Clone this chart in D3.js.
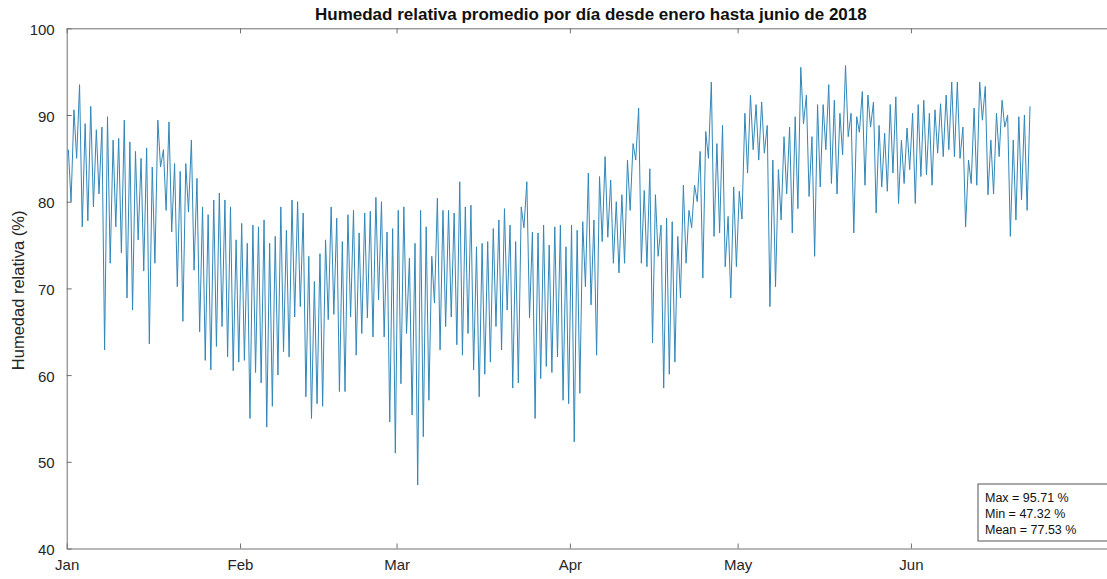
<!DOCTYPE html>
<html>
<head>
<meta charset="utf-8">
<script src="https://cdn.jsdelivr.net/npm/d3@7"></script>
<style>
  html, body { margin: 0; padding: 0; background: #ffffff; overflow: hidden; }
  svg { display: block; }
  text { font-family: "Liberation Sans", Arial, sans-serif; }
</style>
</head>
<body>
<svg id="chart" width="1107" height="579"></svg>
<script>
// Daily humidity extremes (%), one entry per day starting 1 Jan 2018:
// the early-morning high and the afternoon low of each day.
const dailyHigh = [
  86, 90.6, 93.5, 89, 91, 88.3, 88.6, 89.8, 87.1, 87.3,
  89.4, 86.9, 85.8, 85, 86.2, 84, 89.4, 86, 89.2, 84.4,
  83.5, 84.4, 87.1, 82.7, 79.4, 78.5, 80.2, 81, 80.2, 79.4,
  75.6, 77.5, 75.2, 77.3, 77.1, 77.9, 75.2, 76, 79.4, 76.7,
  80.2, 80, 78.7, 73.7, 70.8, 74, 75.6, 79.4, 78.1, 75.4,
  78.5, 79, 76.4, 78.7, 78.9, 80.5, 80, 76.5, 76.9, 79,
  79.4, 73.5, 75.2, 79, 77.1, 73.7, 80.4, 79, 79, 78.7,
  82.3, 79.4, 79.6, 74.8, 75.2, 75.4, 76.9, 77.9, 79.2, 77.3,
  75.4, 79.4, 82.3, 76.5, 76.4, 77.3, 75, 77.1, 77.3, 74.8,
  77.3, 76.7, 77.7, 83.3, 77.9, 82.9, 85.2, 82.5, 80, 80.8,
  84.8, 86.7, 90.8, 81.3, 83.8, 80.8, 77.3, 78.1, 77.7, 76,
  81.9, 79, 81.9, 85.8, 88.1, 93.8, 86.7, 88.8, 78.3, 81.7,
  81.2, 90.2, 92.3, 91.2, 91.5, 88.8, 84.8, 83.7, 87.5, 88.6,
  89.8, 95.5, 92.3, 87.5, 91.2, 91.2, 93.5, 91.7, 90.2, 95.71,
  90.2, 89.8, 92.7, 92.3, 91.5, 88.8, 87.9, 91.2, 92.1, 87.1,
  88.5, 90.2, 91.2, 91.7, 90.2, 90.6, 91.3, 92.3, 93.8, 93.8,
  88.6, 84.8, 90.8, 93.8, 93.3, 87.1, 90.2, 91.7, 90, 87.1,
  89.8, 90, 91
];
const dailyLow = [
  80, 85, 77.1, 77.8, 79.4, 80.9, 62.9, 72.9, 77.1, 74.1,
  68.9, 67.5, 75.6, 72, 63.6, 72.9, 84, 79, 76.5, 70.2,
  66.2, 78.8, 72.1, 65, 61.7, 60.6, 63.3, 65.6, 62.1, 60.5,
  61.5, 61.7, 55, 60.3, 59.1, 54, 56.4, 60, 62.7, 62.1,
  66.7, 67.9, 57.5, 55, 56.7, 56.4, 66.4, 67, 58.1, 58.1,
  66.7, 62.3, 64.8, 66.6, 64.4, 68.7, 64.4, 54.6, 51, 59,
  64.8, 55.4, 47.32, 52.9, 57.1, 68.3, 62.9, 65.6, 66.7, 63.5,
  62.3, 64.8, 60.6, 57.5, 60.1, 61.5, 65.6, 62.9, 67.5, 58.5,
  59.1, 77, 66.6, 55, 59.6, 61, 60.3, 62.1, 57.1, 56.7,
  52.3, 57.9, 70.2, 68.1, 62.3, 75.4, 75.9, 72.9, 71.8, 72.9,
  79, 84.8, 72.9, 72.5, 63.7, 73.7, 58.5, 60.1, 61.5, 68.9,
  72.9, 77, 80, 71.2, 85, 76, 76.4, 72.5, 68.9, 72.5,
  78, 83.3, 86, 84.8, 85.6, 67.9, 70.2, 77.9, 80.9, 76.4,
  79.2, 89, 80.6, 73.7, 81.7, 86, 82.1, 80.9, 85.4, 87.5,
  76.4, 88, 81.9, 88.6, 78.7, 81.7, 81.2, 83.3, 79.8, 82.1,
  83.7, 79.8, 82.9, 83.1, 81.9, 85.6, 85.2, 86, 85.2, 85,
  77.1, 82.1, 81.9, 89.4, 80.8, 80.9, 85.2, 88.6, 76, 77.9,
  80.2, 79
];

// Summary statistics printed in the corner box
const statLabels = ["Max", "Min", "Mean"];
const statValues = [95.71, 47.32, 77.53];

const yTicks = [40, 50, 60, 70, 80, 90, 100];
const monthLabels = ["Jan", "Feb", "Mar", "Apr", "May", "Jun"];

const titleText = "Humedad relativa promedio por día desde enero hasta junio de 2018";
const yLabelText = "Humedad relativa (%)";

// ---- layout ----
const plot = { left: 66.7, right: 1115, top: 28.3, bottom: 548.5 };
const axisColor = "#707070";
const lineColor = "#3187b9";

const svg = d3.select("#chart");

const start = new Date(Date.UTC(2018, 0, 1));
const end = new Date(Date.UTC(2018, 6, 7, 12));
const dayMs = 864e5;

const x = d3.scaleUtc().domain([start, end]).range([plot.left, plot.right]);
const y = d3.scaleLinear().domain([40, 100]).range([plot.bottom, plot.top]);

// Two readings per day: the high near dawn, the low in the afternoon
const series = [];
dailyHigh.forEach((hi, i) => {
  series.push({ t: new Date(start.getTime() + (i + 0.3) * dayMs), v: hi });
  if (i < dailyLow.length) {
    series.push({ t: new Date(start.getTime() + (i + 0.78) * dayMs), v: dailyLow[i] });
  }
});

// ---- data line ----
const line = d3.line().x(d => x(d.t)).y(d => y(d.v));
svg.append("path")
  .datum(series)
  .attr("fill", "none")
  .attr("stroke", lineColor)
  .attr("stroke-width", 1)
  .attr("stroke-linejoin", "round")
  .attr("d", line);

// ---- axes ----
const monthTicks = monthLabels.map((m, i) => new Date(Date.UTC(2018, i, 1)));

const xAxis = d3.axisBottom(x)
  .tickValues(monthTicks)
  .tickFormat((d, i) => monthLabels[i])
  .tickSizeInner(-5).tickSizeOuter(0).tickPadding(12);
const gx = svg.append("g")
  .attr("transform", `translate(0,${plot.bottom})`)
  .call(xAxis);

const xAxisTop = d3.axisTop(x)
  .tickValues(monthTicks)
  .tickFormat("")
  .tickSizeInner(-5).tickSizeOuter(0);
const gxt = svg.append("g")
  .attr("transform", `translate(0,${plot.top})`)
  .call(xAxisTop);

const yAxis = d3.axisLeft(y)
  .tickValues(yTicks)
  .tickFormat(d3.format("d"))
  .tickSizeInner(-5).tickSizeOuter(0).tickPadding(12);
const gy = svg.append("g")
  .attr("transform", `translate(${plot.left},0)`)
  .call(yAxis);

[gx, gxt, gy].forEach(g => {
  g.select(".domain").attr("stroke", axisColor).attr("stroke-width", 1);
  g.selectAll(".tick line").attr("stroke", axisColor).attr("stroke-width", 1);
  g.selectAll(".tick text")
    .attr("fill", "#262626")
    .style("font-family", "'Liberation Sans', Arial, sans-serif")
    .style("font-size", "15px");
});
gy.selectAll(".tick text").attr("dy", "0.4em");
gx.selectAll(".tick text").attr("dy", "0.6em");

// ---- title & axis label ----
svg.append("text")
  .attr("x", (plot.left + plot.right) / 2)
  .attr("y", 20)
  .attr("text-anchor", "middle")
  .attr("font-weight", "bold")
  .attr("font-size", "17px")
  .attr("fill", "#111")
  .text(titleText);

svg.append("text")
  .attr("transform", `translate(24,${(plot.top + plot.bottom) / 2 + 2}) rotate(-90)`)
  .attr("text-anchor", "middle")
  .attr("font-size", "16.5px")
  .attr("fill", "#262626")
  .text(yLabelText);

// ---- statistics box ----
const box = { x: 978, y: 484, w: 140, h: 57 };
svg.append("rect")
  .attr("x", box.x).attr("y", box.y)
  .attr("width", box.w).attr("height", box.h)
  .attr("fill", "#fff")
  .attr("stroke", "#555").attr("stroke-width", 1);

svg.selectAll("text.stat")
  .data(statLabels)
  .join("text")
  .attr("class", "stat")
  .attr("x", box.x + 7)
  .attr("y", (d, i) => box.y + 18 + i * 16)
  .attr("font-size", "12.5px")
  .attr("fill", "#111")
  .text((d, i) => `${d} = ${statValues[i].toFixed(2)} %`);
</script>
</body>
</html>
